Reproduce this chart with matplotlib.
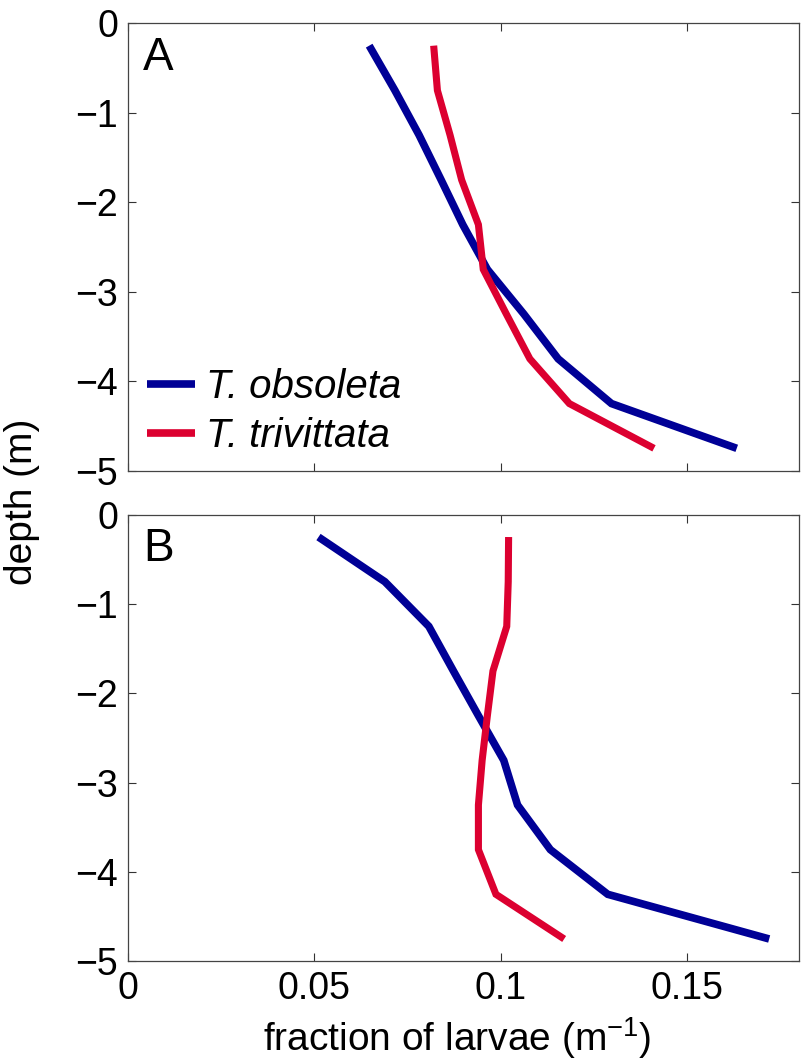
import numpy as np
import matplotlib
matplotlib.use("Agg")
import matplotlib.pyplot as plt

# ── Data ───────────────────────────────────────────────────────────────────
depth = [-0.25, -0.75, -1.25, -1.75, -2.25, -2.75, -3.25, -3.75, -4.25, -4.75]

obsoleta_A   = [0.0647, 0.0716, 0.0781, 0.0840, 0.0898, 0.0964, 0.1062, 0.1154, 0.1297, 0.1633]
trivittata_A = [0.0820, 0.0830, 0.0864, 0.0895, 0.0940, 0.0953, 0.1015, 0.1078, 0.1184, 0.1411]

obsoleta_B   = [0.0511, 0.0689, 0.0807, 0.0873, 0.0940, 0.1008, 0.1045, 0.1133, 0.1287, 0.1720]
trivittata_B = [0.1021, 0.1020, 0.1016, 0.0979, 0.0964, 0.0950, 0.0940, 0.0940, 0.0987, 0.1170]

xticks      = [0, 0.05, 0.1, 0.15]
xticklabels = ["0", "0.05", "0.1", "0.15"]
yticks      = [0, -1, -2, -3, -4, -5]

BLUE = "#000096"
RED  = "#dc0030"

plt.rcParams["font.family"] = ["Liberation Sans", "DejaVu Sans"]
plt.rcParams["mathtext.fontset"] = "custom"
plt.rcParams["mathtext.rm"] = "Liberation Sans"
plt.rcParams["mathtext.default"] = "regular"

W, H = 804, 1064
fig = plt.figure(figsize=(W / 100, H / 100), dpi=100)

left, right = 128, 799
boxes = [(23.3, 470.7), (514.7, 961.3)]   # top / bottom in pixels

panels = [("A", obsoleta_A, trivittata_A), ("B", obsoleta_B, trivittata_B)]
axes = []
for (top, bot), (tag, blue, red) in zip(boxes, panels):
    ax = fig.add_axes([left / W, 1 - bot / H, (right - left) / W, (bot - top) / H])
    ax.plot(blue, depth, color=BLUE, lw=5.5, solid_capstyle="butt",
            solid_joinstyle="miter", label="T. obsoleta")
    ax.plot(red, depth, color=RED, lw=5.1, solid_capstyle="butt",
            solid_joinstyle="miter", label="T. trivittata")
    ax.set_xlim(0, 0.18)
    ax.set_ylim(-5, 0)
    ax.set_xticks(xticks)
    ax.set_yticks(yticks)
    ax.tick_params(direction="in", length=6, width=0.8, color="#333333",
                   labelsize=27, top=True, right=True, pad=7)
    for s in ax.spines.values():
        s.set_linewidth(0.9)
        s.set_color("#444444")
    ax.text(0.022, 0.8955, tag, transform=ax.transAxes, fontsize=33,
            va="baseline", ha="left")
    axes.append(ax)

axA, axB = axes
axA.set_xticklabels([])
axB.set_xticklabels(xticklabels)

leg = axA.legend(loc="lower left", bbox_to_anchor=(0.028, 0.034), frameon=False,
                 prop={"style": "italic", "size": 29}, handlelength=1.2,
                 handletextpad=0.27, labelspacing=0.28, borderpad=0,
                 borderaxespad=0)
for ln in leg.get_lines():
    ln.set_linewidth(5.5)
    ln.set_solid_capstyle("butt")

fig.text(22 / W, 1 - 502 / H, "depth (m)", rotation=90, fontsize=28,
         ha="center", va="center")
fig.text(457 / W, 1 - 1038 / H, "fraction of larvae (m$^{-1}$)", fontsize=28,
         ha="center", va="center")

fig.savefig("out.png", dpi=100)
